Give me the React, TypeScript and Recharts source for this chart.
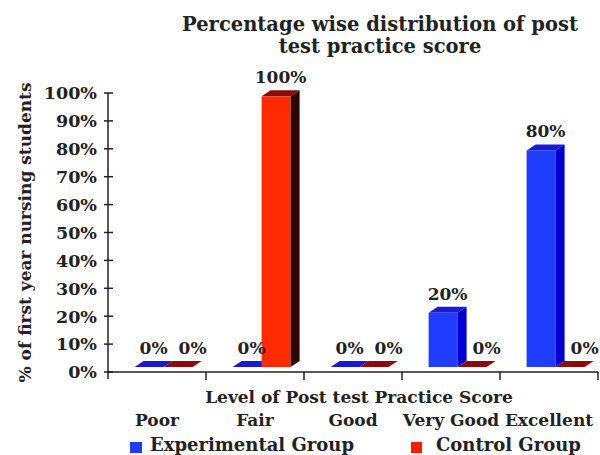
import React from 'react';
import { BarChart, Bar, XAxis, YAxis, Legend, LabelList } from 'recharts';

const categories = ['Poor', 'Fair', 'Good', 'Very Good', 'Excellent'];
const experimental = [0, 0, 0, 20, 80];
const control = [0, 100, 0, 0, 0];
const yTicks = [0, 10, 20, 30, 40, 50, 60, 70, 80, 90, 100];

const data = categories.map((name, i) => ({
  name,
  experimental: experimental[i],
  control: control[i],
}));

const FONT = '"DejaVu Serif", serif';
const BAND = 98;
// 3D look: front face shifted into the depth, top/side faces
const SHIFT_X = 7;
const SHIFT_Y = 5;
const DEPTH_X = 9;
const DEPTH_Y = 6;
const SCALE = 0.97;

const colors = {
  experimental: { front: '#1f3cff', top: '#1a1ad6', side: '#0000d0' },
  control: { front: '#ff2a00', top: '#8e0a0a', side: '#2e0505' },
};

const box = (p: any) => {
  const bottom = p.y + p.height - SHIFT_Y;
  const h = p.height * SCALE;
  const top = bottom - h;
  const x0 = p.x + SHIFT_X;
  return { x0, top, bottom, w: p.width };
};

const make3D = (c: { front: string; top: string; side: string }) => (p: any) => {
  const { x0, top, bottom, w } = box(p);
  return (
    <g>
      <rect x={x0} y={top} width={w} height={bottom - top} fill={c.front} />
      <polygon
        points={`${x0},${top} ${x0 + DEPTH_X},${top - DEPTH_Y} ${x0 + w + DEPTH_X},${top - DEPTH_Y} ${x0 + w},${top}`}
        fill={c.top}
      />
      <polygon
        points={`${x0 + w},${top} ${x0 + w + DEPTH_X},${top - DEPTH_Y} ${x0 + w + DEPTH_X},${bottom - DEPTH_Y} ${x0 + w},${bottom}`}
        fill={c.side}
      />
    </g>
  );
};

// zero-height labels of the second series sit a bit further right
const valueLabel = (extra: number) => (p: any) => {
  const { x0, top, w } = box(p);
  const dx = p.value === 0 ? extra : 0;
  return (
    <text
      x={x0 + (w + DEPTH_X) / 2 + dx}
      y={top - DEPTH_Y - 7}
      textAnchor="middle"
      fontFamily={FONT}
      fontWeight="bold"
      fontSize={17}
      fill="#222"
    >
      {p.value}%
    </text>
  );
};

const YTick = (p: any) => (
  <g>
    <line x1={p.x - 4} x2={p.x + 5} y1={p.y} y2={p.y} stroke="#222" strokeWidth={1.5} />
    <text
      x={p.x - 11}
      y={p.y}
      dy="0.36em"
      textAnchor="end"
      fontFamily={FONT}
      fontWeight="bold"
      fontSize={17.5}
      fill="#222"
    >
      {p.payload.value}%
    </text>
  </g>
);

const XTick = (p: any) => (
  <g>
    {p.index === 0 && (
      <line x1={p.x - BAND / 2} x2={p.x - BAND / 2} y1={p.y} y2={p.y + 7} stroke="#222" strokeWidth={1.5} />
    )}
    <line x1={p.x + BAND / 2} x2={p.x + BAND / 2} y1={p.y} y2={p.y + 8} stroke="#222" strokeWidth={1.5} />
    <text
      x={p.x}
      y={p.y + 54}
      textAnchor="middle"
      fontFamily={FONT}
      fontWeight="bold"
      fontSize={17}
      fill="#222"
    >
      {p.payload.value}
    </text>
  </g>
);

const YLabel = (p: any) => {
  const vb = p.viewBox;
  const cx = 25;
  const cy = vb.y + vb.height / 2;
  return (
    <text
      x={cx}
      y={cy}
      transform={`rotate(-90 ${cx} ${cy})`}
      textAnchor="middle"
      dominantBaseline="central"
      fontFamily={FONT}
      fontWeight="bold"
      fontSize={17}
      fill="#222"
    >
      % of first year nursing students
    </text>
  );
};

const XLabel = (p: any) => {
  const vb = p.viewBox;
  return (
    <text
      x={vb.x + vb.width / 2 + 6}
      y={vb.y + 31}
      textAnchor="middle"
      fontFamily={FONT}
      fontWeight="bold"
      fontSize={17}
      fill="#222"
    >
      Level of Post test Practice Score
    </text>
  );
};

const LegendBox = () => (
  <div style={{ position: 'relative', height: 19, fontFamily: FONT, fontWeight: 'bold', fontSize: 18, color: '#222' }}>
    <span style={{ position: 'absolute', left: 130, top: 6, width: 12, height: 11, background: '#1f3cff' }} />
    <span style={{ position: 'absolute', left: 150, top: -1, lineHeight: '20px', whiteSpace: 'nowrap' }}>
      Experimental Group
    </span>
    <span style={{ position: 'absolute', left: 411, top: 6, width: 11, height: 11, background: '#ff1a00' }} />
    <span style={{ position: 'absolute', left: 436, top: -1, lineHeight: '20px', whiteSpace: 'nowrap' }}>
      Control Group
    </span>
  </div>
);

export default function App() {
  return (
    <div style={{ position: 'absolute', left: 0, top: 0, width: 600, height: 455, background: '#fff', overflow: 'hidden' }}>
      <div
        style={{
          position: 'absolute',
          left: 170,
          top: 14,
          width: 420,
          textAlign: 'center',
          fontFamily: FONT,
          fontWeight: 'bold',
          fontSize: 19.5,
          lineHeight: '22px',
          color: '#222',
        }}
      >
        Percentage wise distribution of post
        <br />
        test practice score
      </div>
      <BarChart
        width={600}
        height={455}
        data={data}
        margin={{ top: 93, right: 2, left: 0, bottom: 0 }}
        barCategoryGap="20%"
        barGap={0}
      >
        <XAxis
          dataKey="name"
          height={64}
          tickSize={0}
          tickMargin={0}
          tick={<XTick />}
          axisLine={{ stroke: '#222', strokeWidth: 1.5 }}
          interval={0}
          label={<XLabel />}
        />
        <YAxis
          width={108}
          domain={[0, 100]}
          ticks={yTicks}
          tickSize={0}
          tickMargin={0}
          tick={<YTick />}
          axisLine={{ stroke: '#222', strokeWidth: 1.5 }}
          label={<YLabel />}
        />
        <Legend verticalAlign="bottom" wrapperStyle={{ left: 0, width: 600 }} content={<LegendBox />} />
        <Bar dataKey="experimental" name="Experimental Group" shape={make3D(colors.experimental)} isAnimationActive={false}>
          <LabelList dataKey="experimental" content={valueLabel(0)} />
        </Bar>
        <Bar dataKey="control" name="Control Group" shape={make3D(colors.control)} isAnimationActive={false}>
          <LabelList dataKey="control" content={valueLabel(10)} />
        </Bar>
      </BarChart>
    </div>
  );
}
